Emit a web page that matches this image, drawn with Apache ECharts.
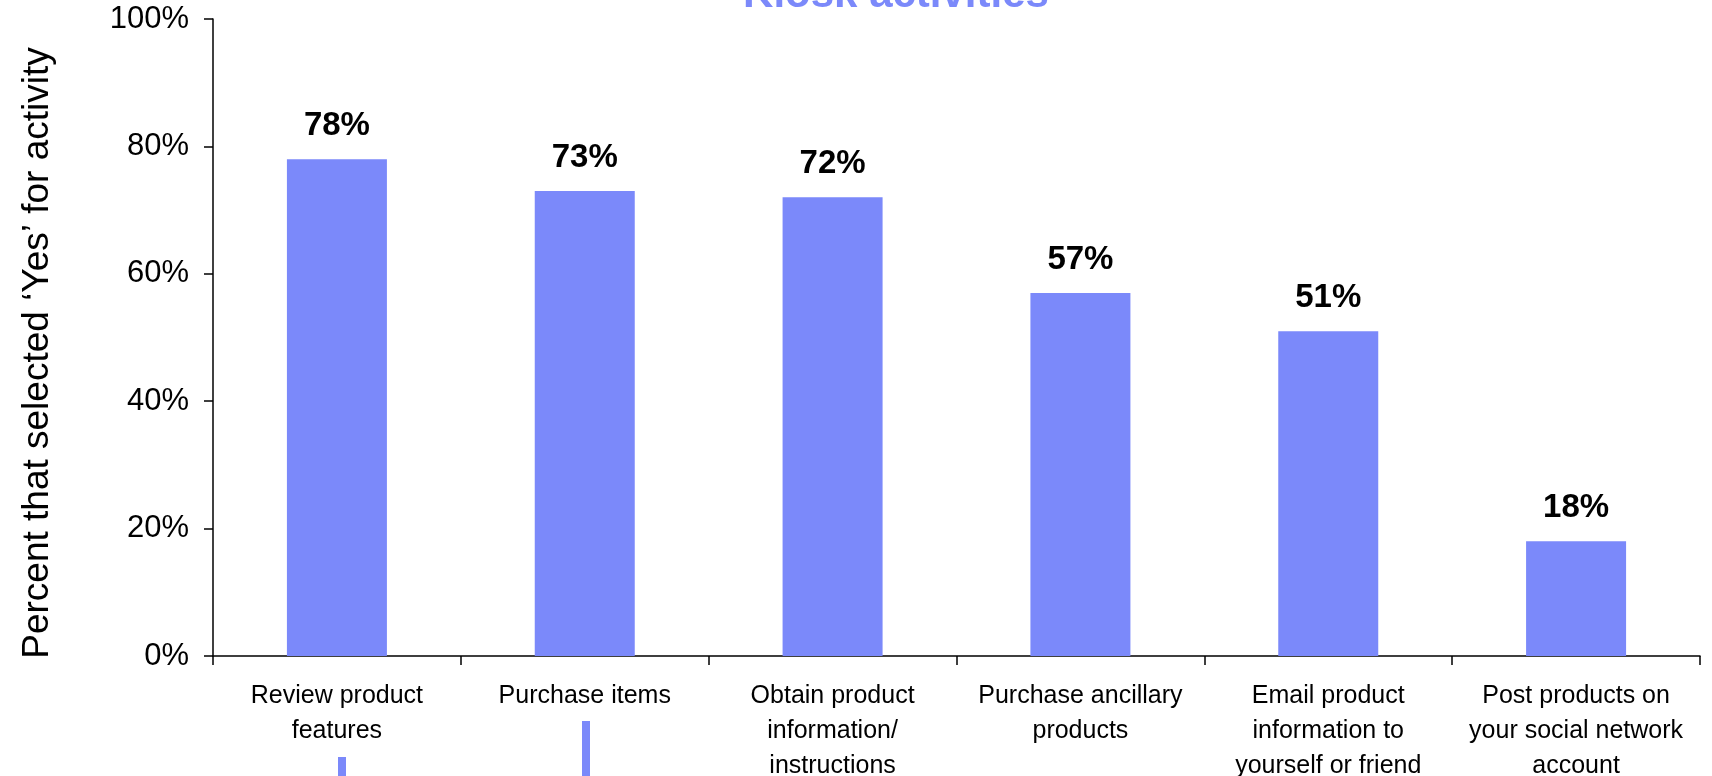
<!DOCTYPE html>
<html>
<head>
<meta charset="utf-8">
<title>Kiosk activities</title>
<script src="https://cdn.jsdelivr.net/npm/echarts@6/dist/echarts.min.js"></script>
<style>
  html, body { margin: 0; padding: 0; background: #ffffff; }
  #chart { width: 1712px; height: 776px; }
</style>
</head>
<body>
<div id="chart"></div>
<script>
// Activities surveyed at the kiosk
const categories = [
  'Review product\nfeatures',
  'Purchase items',
  'Obtain product\ninformation/\ninstructions',
  'Purchase ancillary\nproducts',
  'Email product\ninformation to\nyourself or friend',
  'Post products on\nyour social network\naccount'
];

// Share of respondents answering 'Yes' (percent)
const yesPercent = [78, 73, 72, 57, 51, 18];

// Value axis ticks (percent)
const yTicks = [0, 20, 40, 60, 80, 100];

const chartTitle = 'Kiosk activities';
const yAxisTitle = 'Percent that selected \u2018Yes\u2019 for activity';

const FONT = '"Liberation Sans", Arial, sans-serif';
const BAR_COLOR = '#7b89fa';

const chart = echarts.init(document.getElementById('chart'), null, { renderer: 'canvas' });

chart.setOption({
  animation: false,
  backgroundColor: '#ffffff',
  title: {
    text: chartTitle,
    left: 891,
    textAlign: 'center',
    top: -31,
    textStyle: {
      fontFamily: FONT,
      fontSize: 42,
      fontWeight: 'bold',
      color: BAR_COLOR
    }
  },
  grid: {
    left: 213,
    right: 12,
    top: 19,
    bottom: 120,
    containLabel: false,
    outerBoundsMode: 'none'
  },
  xAxis: {
    type: 'category',
    data: categories,
    axisLine: { show: true, lineStyle: { color: '#000000', width: 1.5 } },
    axisTick: { show: true, length: 9, interval: 0, lineStyle: { color: '#000000', width: 1.5 } },
    axisLabel: {
      interval: 0,
      margin: 23,
      fontFamily: FONT,
      fontSize: 25,
      lineHeight: 35,
      color: '#000000',
      align: 'center'
    },
    splitLine: { show: false }
  },
  yAxis: {
    type: 'value',
    min: yTicks[0],
    max: yTicks[yTicks.length - 1],
    interval: yTicks[1] - yTicks[0],
    axisLine: { show: true, lineStyle: { color: '#000000', width: 1.5 } },
    axisTick: { show: true, inside: false, length: 9, lineStyle: { color: '#000000', width: 1.5 } },
    axisLabel: {
      margin: 24,
      fontFamily: FONT,
      fontSize: 31,
      color: '#000000',
      formatter: function (v) { return v + '%'; }
    },
    splitLine: { show: false }
  },
  graphic: [
    {
      // Rotated value-axis title
      type: 'text',
      x: 38,
      y: 353,
      rotation: Math.PI / 2,
      style: {
        text: yAxisTitle,
        font: '37px ' + FONT,
        fill: '#000000',
        textAlign: 'center',
        textVerticalAlign: 'middle'
      }
    },
    {
      // Accent markers below the first two category labels
      type: 'rect',
      shape: { x: 338, y: 757, width: 8, height: 19 },
      style: { fill: BAR_COLOR }
    },
    {
      type: 'rect',
      shape: { x: 582, y: 721, width: 8, height: 55 },
      style: { fill: BAR_COLOR }
    }
  ],
  series: [
    {
      type: 'bar',
      data: yesPercent,
      barWidth: 100,
      itemStyle: { color: BAR_COLOR },
      label: {
        show: true,
        position: 'top',
        distance: 17,
        fontFamily: FONT,
        fontSize: 33,
        fontWeight: 'bold',
        color: '#000000',
        formatter: function (p) { return p.value + '%'; }
      }
    }
  ]
});
</script>
</body>
</html>
